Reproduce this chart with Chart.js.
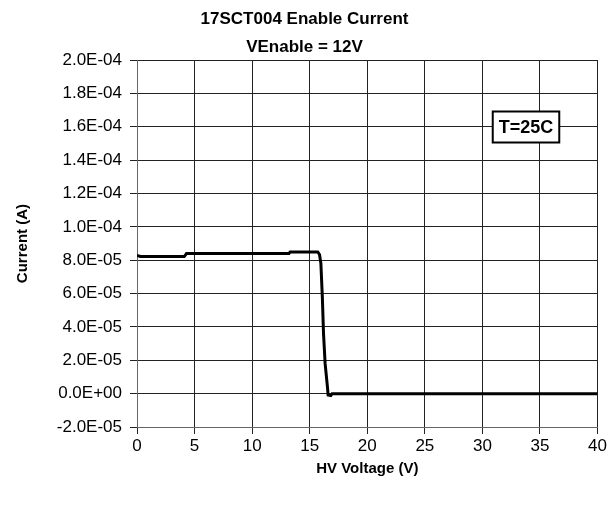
<!DOCTYPE html>
<html>
<head>
<meta charset="utf-8">
<script src="https://cdn.jsdelivr.net/npm/chart.js@4.4.1/dist/chart.umd.min.js"></script>
<style>
  html, body { margin: 0; padding: 0; background: #ffffff; }
  #wrap { width: 609px; height: 506px; position: relative; }
</style>
</head>
<body>
<div id="wrap"><canvas id="c" width="609" height="506"></canvas></div>
<script>
// ---- data ----
const titleLines = ["17SCT004 Enable Current", "VEnable = 12V"];
const xAxisTitle = "HV Voltage (V)";
const yAxisTitle = "Current (A)";
const annotationText = "T=25C";

const voltage = [0, 0.3, 4.1, 4.3, 13.2, 13.3, 15.7, 15.85, 15.97, 16.1, 16.2, 16.34, 16.54, 16.6, 16.83, 16.95, 40];
const current = [8.28e-5, 8.22e-5, 8.22e-5, 8.40e-5, 8.40e-5, 8.50e-5, 8.50e-5, 8.34e-5, 7.82e-5, 5.75e-5, 3.6e-5, 1.8e-5, 0.41e-5, -0.08e-5, -0.12e-5, 0, 0];

const xTickValues = [0, 5, 10, 15, 20, 25, 30, 35, 40];
const xTickLabels = ["0", "5", "10", "15", "20", "25", "30", "35", "40"];
const yTickValues = [-2e-5, 0, 2e-5, 4e-5, 6e-5, 8e-5, 1e-4, 1.2e-4, 1.4e-4, 1.6e-4, 1.8e-4, 2e-4];
const yTickLabels = ["-2.0E-05", "0.0E+00", "2.0E-05", "4.0E-05", "6.0E-05", "8.0E-05", "1.0E-04", "1.2E-04", "1.4E-04", "1.6E-04", "1.8E-04", "2.0E-04"];

const points = voltage.map((v, i) => ({ x: v, y: current[i] }));

const FONT = "'Liberation Sans', Arial, sans-serif";

// ---- layout targets ----
const PLOT_LEFT = 137, PLOT_RIGHT = 599, PLOT_TOP = 58, PLOT_BOTTOM = 427;

const boxPlugin = {
  id: 'tempBox',
  afterDraw(chart) {
    const ctx = chart.ctx;
    ctx.save();
    ctx.font = "bold 18px " + FONT;
    const w = ctx.measureText(annotationText).width;
    const cx = 526, cy = 127;
    const bw = w + 12, bh = 31;
    ctx.fillStyle = '#ffffff';
    ctx.fillRect(cx - bw / 2, cy - bh / 2, bw, bh);
    ctx.lineWidth = 2;
    ctx.strokeStyle = '#000000';
    ctx.strokeRect(cx - bw / 2, cy - bh / 2, bw, bh);
    ctx.fillStyle = '#000000';
    ctx.textAlign = 'center';
    ctx.textBaseline = 'middle';
    ctx.fillText(annotationText, cx, cy + 1);
    ctx.restore();
  }
};

new Chart(document.getElementById('c'), {
  type: 'scatter',
  data: {
    datasets: [{
      data: points,
      showLine: true,
      borderColor: '#000000',
      backgroundColor: '#000000',
      borderWidth: 3,
      pointRadius: 0,
      tension: 0
    }]
  },
  options: {
    responsive: false,
    animation: false,
    devicePixelRatio: 1,
    layout: { padding: { left: 0, right: 0, top: 0, bottom: 0 } },
    plugins: {
      legend: { display: false },
      tooltip: { enabled: false },
      title: {
        display: true,
        text: titleLines,
        color: '#000000',
        font: { family: FONT, size: 17, weight: 'bold', lineHeight: 1.65 },
        padding: { top: 5, bottom: -1 }
      }
    },
    scales: {
      x: {
        type: 'linear',
        min: 0,
        max: 40,
        afterBuildTicks(scale) { scale.ticks = xTickValues.map(v => ({ value: v })); },
        afterFit(scale) { scale.height = 506 - PLOT_BOTTOM; },
        ticks: {
          color: '#000000',
          font: { family: FONT, size: 17 },
          padding: 2,
          maxRotation: 0,
          callback(value, index) { return xTickLabels[index]; }
        },
        grid: { color: '#222222', lineWidth: 1, tickLength: 7, drawTicks: true },
        border: { color: '#666666', width: 1 },
        title: {
          display: true,
          text: xAxisTitle,
          color: '#000000',
          font: { family: FONT, size: 15, weight: 'bold' },
          padding: { top: 0, bottom: 28 }
        }
      },
      y: {
        type: 'linear',
        min: -2e-5,
        max: 2e-4,
        afterBuildTicks(scale) { scale.ticks = yTickValues.map(v => ({ value: v })); },
        afterFit(scale) { scale.width = PLOT_LEFT; },
        ticks: {
          color: '#000000',
          font: { family: FONT, size: 17 },
          padding: 8,
          callback(value, index) { return yTickLabels[index]; }
        },
        grid: { color: '#222222', lineWidth: 1, tickLength: 7, drawTicks: true },
        border: { color: '#666666', width: 1 },
        title: {
          display: true,
          text: yAxisTitle,
          color: '#000000',
          font: { family: FONT, size: 15, weight: 'bold' },
          padding: { top: 14, bottom: 0 }
        }
      }
    }
  },
  plugins: [boxPlugin]
});
</script>
</body>
</html>
